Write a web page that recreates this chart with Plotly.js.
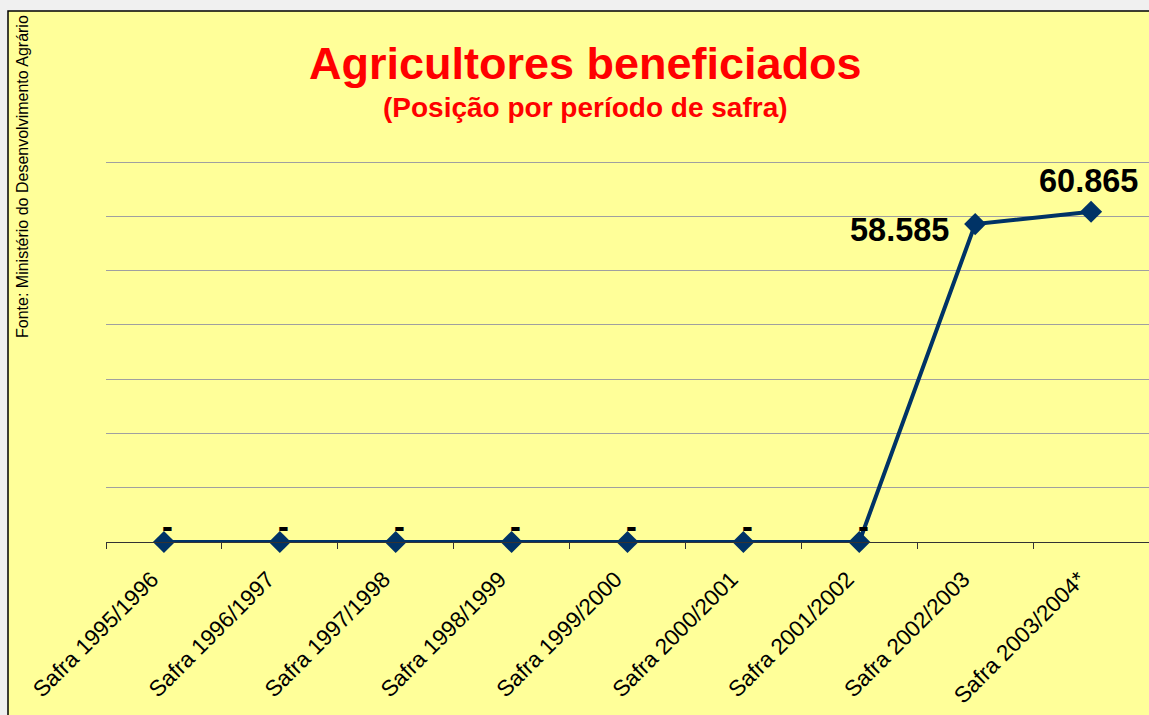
<!DOCTYPE html>
<html>
<head>
<meta charset="utf-8">
<script src="https://cdn.plot.ly/plotly-3.0.1.min.js"></script>
<style>html,body{margin:0;padding:0;background:#f0f0f0;}#chart{width:1149px;height:715px;}</style>
</head>
<body>
<div id="chart"></div>
<script>
const categories = ["Safra 1995/1996","Safra 1996/1997","Safra 1997/1998","Safra 1998/1999","Safra 1999/2000","Safra 2000/2001","Safra 2001/2002","Safra 2002/2003","Safra 2003/2004*"];
const values = [0,0,0,0,0,0,0,58585,60865];
const yTicks = [0,10000,20000,30000,40000,50000,60000,70000];

function fmt(v){
  if (v === 0) return '-';
  return String(v).replace(/\B(?=(\d{3})+(?!\d))/g, '.');
}

const FONT = 'Liberation Sans, Arial, sans-serif';

const trace = {
  x: categories,
  y: values,
  type: 'scatter',
  mode: 'lines+markers',
  line: {color: '#003366', width: 4},
  marker: {symbol: 'diamond', size: 17, color: '#003366'},
  cliponaxis: false,
  hoverinfo: 'skip'
};

const L = 106, T = 160, W = 1149 - 106, H = 542 - 160;
function px(x){ return (x - L) / W; }
function py(y){ return (542 - y) / H; }

const labelAnns = values.map((v, i) => {
  const left = (i === values.length - 2);
  return {
    x: categories[i], y: v, xref: 'x', yref: 'y',
    text: '<b>' + fmt(v) + '</b>', showarrow: false,
    xanchor: left ? 'right' : 'center', yanchor: 'middle',
    xshift: left ? -24 : (v === 0 ? 4 : -3),
    yshift: left ? -6 : (v === 0 ? 15 : 31),
    font: {size: 32.5, color: '#000', family: FONT}
  };
});

const layout = {
  width: 1149, height: 715,
  margin: {l: L, r: 0, t: T, b: 715 - 542, pad: 0},
  paper_bgcolor: '#f0f0f0',
  plot_bgcolor: 'rgba(0,0,0,0)',
  showlegend: false,
  font: {family: FONT, color: '#000'},
  xaxis: {
    type: 'category',
    tickangle: -45,
    tickson: 'boundaries',
    ticks: 'outside', ticklen: 6, tickcolor: '#333', tickwidth: 1,
    showline: true, linecolor: '#333', linewidth: 1.2,
    showgrid: false,
    ticklabelstandoff: 14,
    ticklabelshift: -12,
    tickfont: {size: 22.5, family: FONT, color: '#000'},
    range: [-0.5, categories.length - 0.5],
    fixedrange: true
  },
  yaxis: {
    range: [0, 70400],
    tickvals: yTicks,
    showticklabels: false,
    showgrid: true, gridcolor: '#a0a0a0', gridwidth: 1,
    zeroline: false, showline: false, ticks: '',
    fixedrange: true
  },
  shapes: [{
    type: 'rect', xref: 'paper', yref: 'paper', layer: 'below',
    x0: px(8), x1: px(1160), y0: py(730), y1: py(11),
    fillcolor: '#ffff99', line: {color: '#000', width: 1.5}
  }],
  annotations: [
    {text: '<b>Agricultores beneficiados</b>', xref: 'paper', yref: 'paper', x: px(585), y: py(63), xanchor: 'center', yanchor: 'middle', showarrow: false,
     font: {size: 45, color: '#ff0000', family: FONT}},
    {text: '<b>(Posição por período de safra)</b>', xref: 'paper', yref: 'paper', x: px(585), y: py(108), xanchor: 'center', yanchor: 'middle', showarrow: false,
     font: {size: 28, color: '#ff0000', family: FONT}},
    {text: 'Fonte: Ministério do Desenvolvimento Agrário', xref: 'paper', yref: 'paper', x: px(22), y: py(177), xanchor: 'center', yanchor: 'middle', textangle: -90, showarrow: false,
     font: {size: 16, color: '#000', family: FONT}}
  ].concat(labelAnns)
};

Plotly.newPlot('chart', [trace], layout, {displayModeBar: false, staticPlot: true});
</script>
</body>
</html>
